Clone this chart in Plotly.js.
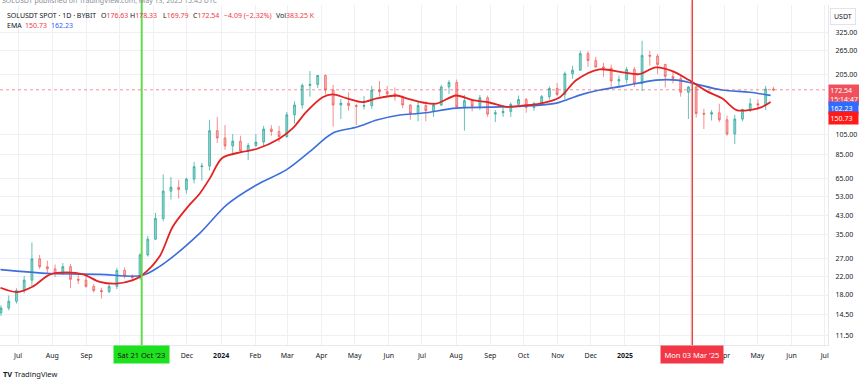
<!DOCTYPE html>
<html><head><meta charset="utf-8">
<script src="https://cdn.plot.ly/plotly-3.0.1.min.js"></script>
<style>html,body{margin:0;padding:0;background:#fff}#chart{width:859px;height:382px}</style>
</head><body><div id="chart"></div>
<script>
// ---- DATA (weekly candles) ----
const weekStart = [
'2023-06-12','2023-06-19','2023-06-26','2023-07-03','2023-07-10','2023-07-17','2023-07-24','2023-07-31','2023-08-07','2023-08-14','2023-08-21','2023-08-28','2023-09-04','2023-09-11','2023-09-18','2023-09-25','2023-10-02','2023-10-09','2023-10-16','2023-10-23','2023-10-30','2023-11-06','2023-11-13','2023-11-20','2023-11-27','2023-12-04','2023-12-11','2023-12-18','2023-12-25',
'2024-01-01','2024-01-08','2024-01-15','2024-01-22','2024-01-29','2024-02-05','2024-02-12','2024-02-19','2024-02-26','2024-03-04','2024-03-11','2024-03-18','2024-03-25','2024-04-01','2024-04-08','2024-04-15','2024-04-22','2024-04-29','2024-05-06','2024-05-13','2024-05-20','2024-05-27','2024-06-03','2024-06-10','2024-06-17','2024-06-24','2024-07-01','2024-07-08','2024-07-15','2024-07-22','2024-07-29','2024-08-05','2024-08-12','2024-08-19','2024-08-26','2024-09-02','2024-09-09','2024-09-16','2024-09-23','2024-09-30','2024-10-07','2024-10-14','2024-10-21','2024-10-28','2024-11-04','2024-11-11','2024-11-18','2024-11-25','2024-12-02','2024-12-09','2024-12-16','2024-12-23','2024-12-30',
'2025-01-06','2025-01-13','2025-01-20','2025-01-27','2025-02-03','2025-02-10','2025-02-17','2025-02-24','2025-03-03','2025-03-10','2025-03-17','2025-03-24','2025-03-31','2025-04-07','2025-04-14','2025-04-21','2025-04-28','2025-05-05','2025-05-12'];
const openP = [
14.8,15.6,16.8,18.9,21.2,26.8,24.6,24.0,22.8,24.6,21.4,21.2,19.8,18.9,18.7,19.8,23.6,22.2,21.8,28.0,33.3,41.8,56.5,59.0,57.5,64.5,74.0,74.5,110,
101.5,93,98,88,93.5,97,112,109,103,131,146,181,183,202,172,146,149,145,144,145,172,169,165,160,146,133,145,137,146,178,187,143,153,144,158,132,134,136,147,155,142,148,160,175,164,206,214,257,238,222,219,190,193,
216,185,252,250,228,200,195,168,178,133,132,134,124,106,125,139,148,146,174];
const highP = [
16.1,17.9,19.4,22.2,32.1,28.0,26.3,25.2,25.6,25.3,22.4,22.6,20.3,19.5,20.4,24.3,24.4,22.6,28.5,34.5,44.5,68.0,66.0,64.0,65.5,78.0,77.0,124,128,
117,106,104,96,106,116,117,116,135,152,185,212,203,204,182,156,168,148,161,180,190,180,177,162,147,153,152,150,182,192,193,163,156,163,162,138,145,150,162,158,151,163,179,186,211,225,265,264,248,232,228,202,222,
222,296,265,256,230,210,202,180,180,140,138,148,130,131,140,157,155,180,178.33];
const lowP = [
14.3,15.2,16.4,18.3,19.9,24.0,22.8,21.9,22.5,19.4,20.3,19.5,18.5,17.3,18.4,19.2,21.6,20.9,21.3,27.5,33.0,40.5,51.5,52.0,55.0,61.5,63.5,71,96,
89,84,86,79.5,92,93,104,97,102,119,140,160,176,164,115,125,137,117,139,140,160,160,153,141,124,122,122,128,144,165,141,110,136,138,128,121,128,128,146,134,137,145,155,161,155,195,213,222,220,199,176,180,185,
178,170,225,205,177,185,160,125,127,112,123,121,104,95,122,135,138,138,169.79];
const closeP = [
15.6,16.8,18.9,21.2,26.8,24.6,24.0,22.8,24.6,21.4,21.2,19.8,18.9,18.7,19.8,23.6,22.2,21.8,28.0,33.3,41.8,56.5,59.0,57.5,64.5,74.0,74.5,110,101.5,
93,98,88,93.5,97,112,109,103,131,146,181,183,202,172,146,149,145,144,145,172,169,165,160,146,133,145,137,146,178,187,143,153,144,158,132,134,136,147,155,142,148,160,175,164,206,214,257,238,222,219,190,193,216,
185,252,250,228,200,195,168,178,133,132,134,124,106,125,139,148,146,174,172.54];

const fastEmaDates = ['2023-06-15','2023-06-30','2023-07-14','2023-07-30','2023-08-14','2023-08-29','2023-09-13','2023-09-28','2023-10-13','2023-10-21','2023-11-06','2023-11-18','2023-12-01','2023-12-13','2023-12-22','2024-01-02','2024-01-20','2024-02-02','2024-02-23','2024-03-06','2024-03-18','2024-04-02','2024-04-11','2024-04-24','2024-05-08','2024-05-21','2024-06-08','2024-06-17','2024-07-02','2024-07-14','2024-08-01','2024-08-16','2024-08-31','2024-09-16','2024-09-30','2024-10-16','2024-11-03','2024-11-18','2024-12-09','2024-12-30','2025-01-14','2025-01-29','2025-02-13','2025-02-28','2025-03-16','2025-03-30','2025-04-12','2025-04-24','2025-05-05','2025-05-13'];
const fastEmaValues = [19.5,18.6,19.7,22.6,23.1,22.6,20.8,20.4,21.2,22.3,27.4,38.1,47,55.4,65.4,81.4,87,89.9,101,113,135,159,164,157,150.6,157,162,157,150,148,162,154,150,143,145,148,159,192,216,209,205,221,212,192,170,157,138,138,142.6,150.73];
const slowEmaDates = ['2023-06-15','2023-07-30','2023-09-13','2023-10-21','2023-11-06','2023-12-13','2024-01-06','2024-02-02','2024-02-29','2024-03-21','2024-04-11','2024-05-03','2024-05-21','2024-06-11','2024-07-02','2024-08-01','2024-08-31','2024-09-30','2024-10-31','2024-11-21','2024-12-09','2024-12-30','2025-01-29','2025-02-17','2025-03-03','2025-03-30','2025-04-24','2025-05-13'];
const slowEmaValues = [23.8,22.8,22.6,22.3,24.6,35.7,48.6,60.5,71.4,87,107,114.4,123.6,130.6,133.5,141,142.5,144,149,162.7,172,179.6,192,192,185.7,172,168,162.23];

const priceTicks = [325,265,205,105,85,65,53,43,35,27,22,18,14.5,11.5];
const monthTicks = ['2023-07-01','2023-08-01','2023-09-01','2023-10-01','2023-11-01','2023-12-01','2024-01-01','2024-02-01','2024-03-01','2024-04-01','2024-05-01','2024-06-01','2024-07-01','2024-08-01','2024-09-01','2024-10-01','2024-11-01','2024-12-01','2025-01-01','2025-02-01','2025-03-01','2025-04-01','2025-05-01','2025-06-01','2025-07-01'];
// labels hidden under the date boxes in the reference are left empty
const monthLabels = ['Jul','Aug','Sep','','','Dec','<b>2024</b>','Feb','Mar','Apr','May','Jun','Jul','Aug','Sep','Oct','Nov','Dec','<b>2025</b>','','','Apr','May','Jun','Jul'];
const markDates = ['2023-10-21','2025-03-03'];
const markLabels = ["Sat 21 Oct '23","Mon 03 Mar '25"];
const lastPrice = 172.54, fastLast = 150.73, slowLast = 162.23;

// ---- LAYOUT HELPERS ----
const W = 859, H = 382, ML = 0, MR = 31, MT = 5, MB = 37;
const PW = W - ML - MR, PH = H - MT - MB;
const px = x => (x - ML) / PW;
const py = y => (H - MB - y) / PH;
const FONT = 'Noto Sans, Roboto, sans-serif';
const DARK = '#131722', RED = '#f23645', BLUE = '#2962ff';

const traces = [
  {type:'candlestick', x: weekStart, open: openP, high: highP, low: lowP, close: closeP,
   xperiod: 7*24*3600*1000, xperiod0: '2023-06-12', xperiodalignment: 'middle',
   increasing:{line:{color:'rgba(38,166,154,0.7)', width:1}, fillcolor:'rgba(38,166,154,0.5)'},
   decreasing:{line:{color:'rgba(239,83,80,0.65)', width:1}, fillcolor:'rgba(239,83,80,0.45)'},
   whiskerwidth:0, hoverinfo:'skip', showlegend:false},
  {type:'scatter', mode:'lines', x: slowEmaDates, y: slowEmaValues,
   line:{color:'#3d6fdb', width:1.6, shape:'spline', smoothing:0.9}, hoverinfo:'skip', showlegend:false},
  {type:'scatter', mode:'lines', x: fastEmaDates, y: fastEmaValues,
   line:{color:'#e32222', width:1.8, shape:'spline', smoothing:0.9}, hoverinfo:'skip', showlegend:false}
];

const anns = [];
function txt(x, y, text, opts) {
  anns.push(Object.assign({xref:'paper', yref:'paper', x: px(x), y: py(y), text, showarrow:false,
    xanchor:'left', yanchor:'middle', font:{family:FONT, size:7, color:DARK}}, opts||{}));
}
const r = s => '<span style="color:'+RED+'">'+s+'</span>';
txt(0, 0, 'SOLUSDT published on TradingView.com, May 13, 2025 15:45 UTC', {font:{family:FONT,size:7,color:'#8a8e99'}});
txt(5, 16, 'SOLUSDT SPOT · 1D · BYBIT');
txt(99, 16, 'O' + r('176.63'));
txt(128, 16, 'H' + r('178.33'));
txt(161, 16, 'L' + r('169.79'));
txt(191, 16, 'C' + r(lastPrice.toFixed(2)));
txt(222, 16, r('−4.09 (−2.32%)'));
txt(274, 16, 'Vol' + r('383.25 K'));
txt(5, 25.5, 'EMA');
txt(23, 25.5, r(fastLast.toFixed(2)));
txt(49, 25.5, '<span style="color:'+BLUE+'">'+slowLast.toFixed(2)+'</span>');
txt(1, 374, '<b>TV</b> TradingView', {font:{family:FONT,size:7.5,color:DARK}});
// USDT box
anns.push({xref:'paper', yref:'paper', x: px(843), y: py(16.5), text:'USDT', showarrow:false,
  xanchor:'center', yanchor:'middle', font:{family:FONT,size:7,color:DARK},
  bordercolor:'#e0e3eb', borderwidth:1, bgcolor:'#fff', borderpad:3});
// price labels on the axis
const ly = Math.log10(lastPrice);
anns.push({xref:'paper', yref:'y', x:1, y: ly, yshift:5.5, text: lastPrice.toFixed(2)+'<br>15:14:47', showarrow:false,
  xanchor:'left', yanchor:'top', align:'left', bgcolor:'#f0505c', borderpad:1.2, font:{family:FONT,size:7,color:'#fff'}});
anns.push({xref:'paper', yref:'y', x:1, y: ly, yshift:-18, text: slowLast.toFixed(2)+'&nbsp;&nbsp;', showarrow:false,
  xanchor:'left', yanchor:'middle', bgcolor:'#2f6bff', borderpad:1.5, font:{family:FONT,size:7,color:'#fff'}});
anns.push({xref:'paper', yref:'y', x:1, y: ly, yshift:-28.5, text: fastLast.toFixed(2)+'&nbsp;&nbsp;', showarrow:false,
  xanchor:'left', yanchor:'middle', bgcolor:'#ff1a1a', borderpad:1.5, font:{family:FONT,size:7,color:'#fff'}});
// date labels of marker lines
anns.push({xref:'x', yref:'paper', x: markDates[0], y:0, text: markLabels[0], showarrow:false,
  xanchor:'center', yanchor:'top', bgcolor:'#1fe01f', borderpad:3.5, font:{family:FONT,size:7.5,color:'#111'}});
anns.push({xref:'x', yref:'paper', x: markDates[1], y:0, text: markLabels[1], showarrow:false,
  xanchor:'center', yanchor:'top', bgcolor:'#f23645', borderpad:3.5, font:{family:FONT,size:7.5,color:'#fff'}});

const shapes = [
  {type:'line', xref:'paper', yref:'y', x0:0, x1:1, y0:lastPrice, y1:lastPrice, line:{color:'rgba(242,54,69,0.55)', width:1, dash:'dot'}},
  {type:'line', xref:'x', yref:'paper', x0:markDates[0], x1:markDates[0], y0:0, y1:1.05, line:{color:'#63d94f', width:2}},
  {type:'line', xref:'x', yref:'paper', x0:markDates[1], x1:markDates[1], y0:0, y1:1.05, line:{color:'#e84545', width:1.5}}
];

const layout = {
  width: W, height: H, margin:{l:ML, r:MR, t:MT, b:MB},
  paper_bgcolor:'#fff', plot_bgcolor:'#fff', showlegend:false, boxgap:0.65,
  font:{family:FONT, size:7, color:DARK},
  xaxis:{type:'date', range:['2023-06-14 14:00','2025-07-04'], tickvals: monthTicks, ticktext: monthLabels,
    showgrid:true, gridcolor:'#eef0f5', gridwidth:1, zeroline:false, ticks:'', ticklabelstandoff:4,
    showline:true, linecolor:'#e6e8ee', linewidth:1, rangeslider:{visible:false}, fixedrange:true,
    tickfont:{family:FONT,size:7,color:DARK}},
  yaxis:{type:'log', side:'right', range:[Math.log10(10.38), Math.log10(439)], tickvals: priceTicks,
    ticktext: priceTicks.map(v => v.toFixed(2)), showgrid:true, gridcolor:'#eef0f5', gridwidth:1,
    zeroline:false, ticks:'', ticklabelstandoff:5, showline:true, linecolor:'#e6e8ee', linewidth:1,
    tickfont:{family:FONT,size:7,color:DARK}, fixedrange:true},
  annotations: anns, shapes: shapes
};
Plotly.newPlot('chart', traces, layout, {displayModeBar:false, staticPlot:true});
</script></body></html>
